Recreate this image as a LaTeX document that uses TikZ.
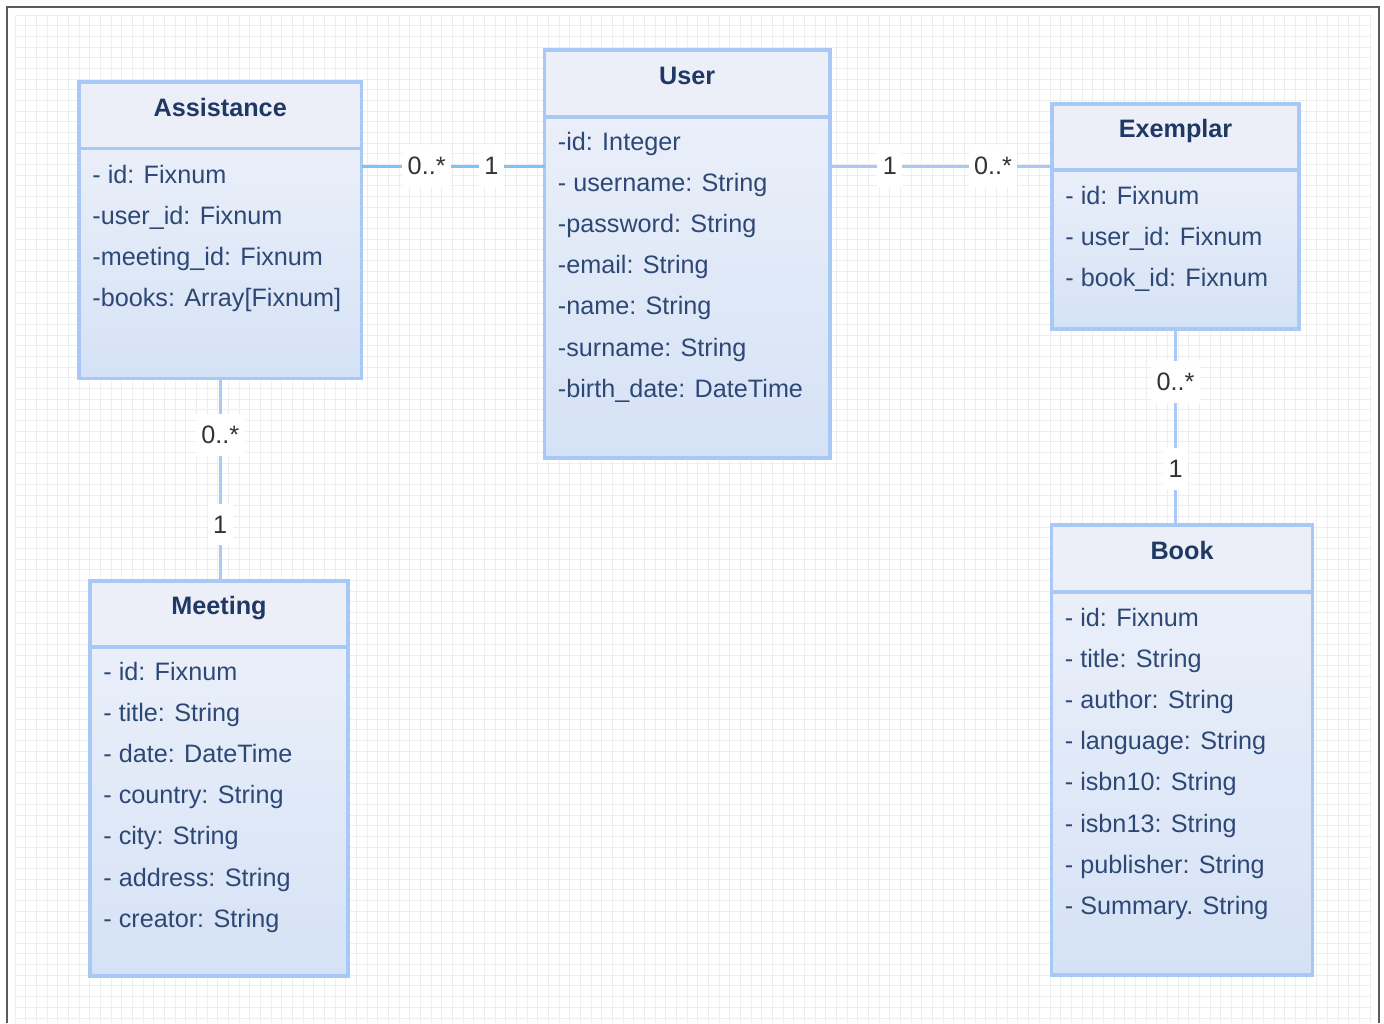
\documentclass[tikz,border=0pt]{standalone}
\usepackage{fontspec}
\setmainfont{Liberation Sans}
\usetikzlibrary{calc}

\definecolor{umlborder}{RGB}{168,200,245}
\definecolor{umlhead}{RGB}{237,239,248}
\definecolor{umltop}{RGB}{234,239,249}
\definecolor{umlbottom}{RGB}{213,226,246}
\definecolor{umltitle}{RGB}{31,56,100}
\definecolor{umltext}{RGB}{46,72,118}
\definecolor{linkblue}{RGB}{124,196,242}
\definecolor{gridgray}{RGB}{238,238,238}
\definecolor{framegray}{RGB}{90,90,90}
\definecolor{multgray}{RGB}{51,51,51}

\tikzset{
  classhead/.style={draw=umlborder, line width=1.6pt, fill=umlhead, anchor=north west,
    inner sep=0pt, outer sep=0pt, font=\fontsize{12.6}{15}\selectfont\bfseries, text=umltitle,
    text height=9.2pt, text depth=8.3pt},
  classbody/.style={draw=umlborder, line width=1.6pt, top color=umltop,
    bottom color=umlbottom, anchor=north west, inner sep=0pt, outer sep=0pt},
  attr/.style={anchor=base west, inner sep=0pt, font=\fontsize{12.6}{15}\selectfont, text=umltext},
  link/.style={draw=umlborder, line width=1.5pt},
  mult/.style={fill=white, inner xsep=2.75pt, inner ysep=6pt,
    font=\fontsize{12.6}{15}\selectfont, text=multgray},
  gridline/.style={draw=gridgray, line width=0.5pt}
}

\begin{document}
\begin{tikzpicture}[x=0.5pt,y=-0.5pt]
  \useasboundingbox (0,0) rectangle (1384,1023);

  % background grid and frame
  \foreach \gx in {0,...,127}
    \draw[gridline] (15+\gx*10.67,15) -- (15+\gx*10.67,1023);
  \foreach \gy in {0,...,94}
    \draw[gridline] (15,15+\gy*10.67) -- (1372,15+\gy*10.67);
  \draw[framegray, line width=1pt] (7,1023) -- (7,7) -- (1379,7) -- (1379,1023);

  % Assistance
  \node[classhead, minimum width=141.25pt, minimum height=33.25pt] (assisthead) at (79,82) {Assistance};
  \node[classbody, minimum width=141.25pt, minimum height=115pt] (assistbody) at (79,148.5) {};
  \foreach \txt [count=\i from 0] in {- id: Fixnum, -user\_id: Fixnum, -meeting\_id: Fixnum, -books: Array[Fixnum]}
    \node[attr] (assist-\i) at (92,183+41.2*\i) {\txt};

  % User
  \node[classhead, minimum width=142.75pt, minimum height=33.5pt] (userhead) at (544.5,50) {User};
  \node[classbody, minimum width=142.75pt, minimum height=170.5pt] (userbody) at (544.5,117) {};
  \foreach \txt [count=\i from 0] in {-id: Integer, - username: String, -password: String, -email: String, -name: String, -surname: String, -birth\_date: DateTime}
    \node[attr] (user-\i) at (557.5,150+41.2*\i) {\txt};

  % Exemplar
  \node[classhead, minimum width=123.5pt, minimum height=33pt] (exemplarhead) at (1052,104) {Exemplar};
  \node[classbody, minimum width=123.5pt, minimum height=79.5pt] (exemplarbody) at (1052,170) {};
  \foreach \txt [count=\i from 0] in {- id: Fixnum, - user\_id: Fixnum, - book\_id: Fixnum}
    \node[attr] (exemplar-\i) at (1065,204+41.2*\i) {\txt};

  % Meeting
  \node[classhead, minimum width=129pt, minimum height=33pt] (meetinghead) at (90,581) {Meeting};
  \node[classbody, minimum width=129pt, minimum height=164.5pt] (meetingbody) at (90,647) {};
  \foreach \txt [count=\i from 0] in {- id: Fixnum, - title: String, - date: DateTime, - country: String, - city: String, - address: String, - creator: String}
    \node[attr] (meeting-\i) at (103,680+41.2*\i) {\txt};

  % Book
  \node[classhead, minimum width=130.5pt, minimum height=33.5pt] (bookhead) at (1051.5,525) {Book};
  \node[classbody, minimum width=130.5pt, minimum height=191.5pt] (bookbody) at (1051.5,592) {};
  \foreach \txt [count=\i from 0] in {- id: Fixnum, - title: String, - author: String, - language: String, - isbn10: String, - isbn13: String, - publisher: String, - Summary. String}
    \node[attr] (book-\i) at (1064.5,626+41.2*\i) {\txt};

  % associations
  \coordinate (au) at ([yshift=-8.75pt]assistbody.north east);
  \draw[link, draw=linkblue] (au) -- (au -| userbody.west)
    node[mult, pos=0.356] (au-many) {0..*} node[mult, pos=0.71] (au-one) {1};
  \draw[link] (au -| userbody.east) -- (au -| exemplarbody.west)
    node[mult, pos=0.27] (ue-one) {1} node[mult, pos=0.734] (ue-many) {0..*};
  \draw[link] (assistbody.south) -- (assistbody.south |- meetinghead.north)
    node[mult, pos=0.279] (am-many) {0..*} node[mult, pos=0.722] (am-one) {1};
  \draw[link] (exemplarbody.south) -- (exemplarbody.south |- bookhead.north)
    node[mult, pos=0.269] (eb-many) {0..*} node[mult, pos=0.715] (eb-one) {1};
\end{tikzpicture}
\end{document}
